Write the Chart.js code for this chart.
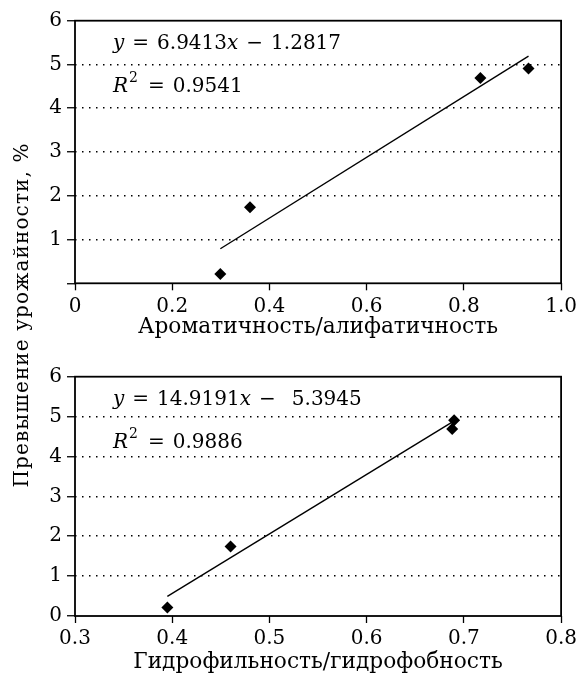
<!DOCTYPE html>
<html>
<head>
<meta charset="utf-8">
<script src="https://cdn.jsdelivr.net/npm/chart.js@4.4.1/dist/chart.umd.min.js"></script>
<style>
  html, body { margin: 0; padding: 0; background: #fff; }
  #wrap { position: relative; width: 581px; height: 675px; overflow: hidden; }
  #c1 { position: absolute; left: 0; top: 0; }
  #c2 { position: absolute; left: 0; top: 340px; }
  #ylab {
    position: absolute; left: -179px; top: 303px; width: 400px; height: 24px;
    line-height: 24px; text-align: center; white-space: nowrap;
    font-family: 'DejaVu Serif', serif; font-size: 20px; letter-spacing: 1.1px; color: #000;
    transform: rotate(-90deg); transform-origin: 50% 50%;
  }
</style>
</head>
<body>
<div id="wrap">
  <canvas id="c1" width="581" height="340"></canvas>
  <canvas id="c2" width="581" height="335"></canvas>
  <div id="ylab">Превышение урожайности, %</div>
</div>
<script>
// shared y values (yield gain, %)
const yieldGain = [0.21, 1.74, 4.69, 4.91];

// top: aromaticity / aliphaticity
const aromX = [0.299, 0.360, 0.834, 0.933];
const aromTrendX = [0.299, 0.933];
const aromTrendY = [0.79, 5.19];
const aromEq = ['y = 6.9413x − 1.2817', 'R^2 = 0.9541'];

// bottom: hydrophilicity / hydrophobicity
const hydroX = [0.395, 0.460, 0.688, 0.690];
const hydroTrendX = [0.395, 0.690];
const hydroTrendY = [0.49, 4.89];
const hydroEq = ['y = 14.9191x −  5.3945', 'R^2 = 0.9886'];

const yTicks = [0, 1, 2, 3, 4, 5, 6];

const FONT = "'DejaVu Serif', serif";
Chart.defaults.font.family = FONT;
Chart.defaults.font.size = 20;
Chart.defaults.color = '#000';

// draw text, italic for x/y/R, superscript for ^2
function drawMath(ctx, str, x, y) {
    let cx = x;
    for (let i = 0; i < str.length; i++) {
        let ch = str[i];
        if (ch === '^') {
            ctx.font = '14px ' + FONT;
            ctx.fillText(str[i + 1], cx + 1, y - 10);
            cx += ctx.measureText(str[i + 1]).width + 3;
            i++;
            continue;
        }
        if (ch === ' ') {
            cx += 8;
            continue;
        }
        ctx.font = (ch === 'x' || ch === 'y' || ch === 'R' ? 'italic ' : '') + '20px ' + FONT;
        ctx.fillText(ch, cx, y);
        cx += ctx.measureText(ch).width;
    }
}

const framePlugin = {
    id: 'frame',
    afterDraw(chart) {
        const a = chart.chartArea;
        const ctx = chart.ctx;
        ctx.save();
        ctx.strokeStyle = '#000';
        ctx.lineWidth = 1.8;
        ctx.strokeRect(a.left, a.top, a.right - a.left, a.bottom - a.top);
        ctx.fillStyle = '#000';
        ctx.textBaseline = 'alphabetic';
        const eq = chart.options.plugins.frame.eq;
        drawMath(ctx, eq[0], a.left + 38, a.top + 28);
        drawMath(ctx, eq[1], a.left + 38, a.top + 71);
        ctx.restore();
    }
};

function makeChart(id, xs, tx, ty, eq, xmin, xmax, xstep, hideZero, padTop, xAxisH, xTitle) {
    new Chart(document.getElementById(id), {
        type: 'scatter',
        data: {
            datasets: [
                {
                    data: xs.map((x, i) => ({ x: x, y: yieldGain[i] })),
                    pointStyle: 'rectRot',
                    pointRadius: 6,
                    backgroundColor: '#000',
                    borderColor: '#000',
                    borderWidth: 0,
                },
                {
                    type: 'line',
                    data: tx.map((x, i) => ({ x: x, y: ty[i] })),
                    borderColor: '#000',
                    borderWidth: 1.4,
                    pointRadius: 0,
                    fill: false,
                },
            ],
        },
        options: {
            responsive: false,
            animation: false,
            layout: {
                padding: { top: padTop, bottom: 0, left: 15, right: 17.7 },
            },
            plugins: {
                legend: { display: false },
                tooltip: { enabled: false },
                frame: { eq: eq },
            },
            scales: {
                x: {
                    type: 'linear',
                    min: xmin,
                    max: xmax,
                    afterFit: (s) => { s.height = xAxisH; },
                    ticks: {
                        stepSize: xstep,
                        padding: 4,
                        maxRotation: 0,
                        callback: (v) => (v === 0 ? '0' : v.toFixed(1)),
                    },
                    grid: {
                        drawOnChartArea: false,
                        tickLength: 7,
                        tickColor: '#000',
                        tickWidth: 1.3,
                    },
                    border: { display: false },
                    title: {
                        display: true,
                        text: xTitle,
                        font: { size: 21.7 },
                        padding: { top: 0, bottom: 0 },
                    },
                },
                y: {
                    min: 0,
                    max: 6,
                    afterFit: (s) => { s.width = 60; },
                    afterBuildTicks: (s) => { s.ticks = yTicks.map((v) => ({ value: v })); },
                    ticks: {
                        padding: 5,
                        callback: (v) => (hideZero && v === 0 ? '' : String(v)),
                    },
                    grid: {
                        color: (c) => (c.tick && (c.tick.value === 0 || c.tick.value === 6) ? 'transparent' : '#000'),
                        lineWidth: 1.5,
                        tickLength: 8,
                        tickColor: '#000',
                        tickWidth: 1.3,
                        tickBorderDash: [],
                    },
                    border: { display: false, dash: [1.5, 5.5] },
                },
            },
        },
        plugins: [framePlugin],
    });
}

makeChart('c1', aromX, aromTrendX, aromTrendY, aromEq, 0, 1, 0.2, true, 20.7, 56.7, 'Ароматичность/алифатичность');
makeChart('c2', hydroX, hydroTrendX, hydroTrendY, hydroEq, 0.3, 0.8, 0.1, false, 36.7, 59, 'Гидрофильность/гидрофобность');
</script>
</body>
</html>
